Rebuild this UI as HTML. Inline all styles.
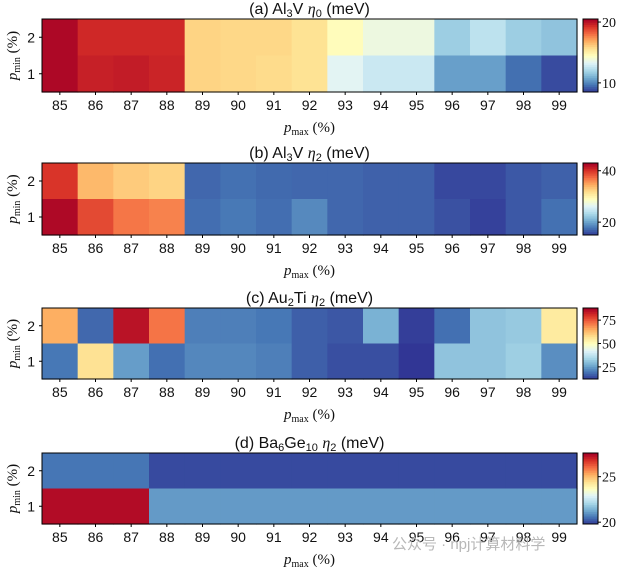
<!DOCTYPE html>
<html><head><meta charset="utf-8">
<style>
html,body{margin:0;padding:0;background:#fff;}
svg{display:block;}
text{fill:#111;}
.sans{font-family:"Liberation Sans","DejaVu Sans",sans-serif;}
.serif{font-family:"Liberation Serif","DejaVu Serif",serif;}
</style></head>
<body>
<svg id="fig" width="630" height="568" viewBox="0 0 630 568" xmlns="http://www.w3.org/2000/svg"></svg>
<script>
const categories = [85,86,87,88,89,90,91,92,93,94,95,96,97,98,99];
const rowsLabels = [2,1];
// panel a: Al3V eta0
const aRow2 = [20.3,19.5,19.5,19.5,16.0,15.9,15.9,15.6,14.6,13.8,13.8,11.8,12.5,11.8,11.5];
const aRow1 = [20.3,19.7,19.8,19.6,16.0,15.9,15.8,15.6,13.4,12.8,12.8,10.6,10.6,9.6,8.9];
const aRange = [8.5,20.5];
const aTicks = [10,20];
// panel b: Al3V eta2
const bRow2 = [40,34,33,32.5,17.2,17.6,17.3,17.2,17.2,16.9,16.9,15.8,15.8,16.5,16.9];
const bRow1 = [42.5,39,37,36.5,17.5,18,17.5,18.8,17.2,16.9,16.9,16.2,15.5,16.5,17.6];
const bRange = [15,43];
const bTicks = [20,40];
// panel c: Au2Ti eta2
const cRow2 = [65,18,85,72,21,21,20,17,16,28,13,19,31,32,55];
const cRow1 = [20,57,25,19,22,22,21,17,15,15,12,31,31,33,23];
const cRange = [12,88];
const cTicks = [25,50,75];
// panel d: Ba6Ge10 eta2
const dRow2 = [20.6,20.6,20.6,20.05,20.05,20.05,20.05,20.05,20.05,20.05,20.05,20.05,20.05,20.05,20.05];
const dRow1 = [27.4,27.4,27.4,21.1,21.1,21.1,21.1,21.1,21.1,21.1,21.1,21.1,21.1,21.1,21.1];
const dRange = [19.8,27.6];
const dTicks = [20,25];

const cmapStops = ["#313695","#4575b4","#74add1","#abd9e9","#e0f3f8","#ffffbf","#fee090","#fdae61","#f46d43","#d73027","#a50026"];
function hex(h){return [1,3,5].map(i=>parseInt(h.substr(i,2),16));}
function cmap(t){
  t=Math.max(0,Math.min(1,t));
  const p=t*(cmapStops.length-1), i=Math.min(Math.floor(p),cmapStops.length-2), f=p-i;
  const a=hex(cmapStops[i]), b=hex(cmapStops[i+1]);
  return "rgb("+a.map((v,k)=>Math.round(v+(b[k]-v)*f)).join(",")+")";
}
const NS="http://www.w3.org/2000/svg";
const svg=document.getElementById("fig");
function el(tag,attrs,parent){const e=document.createElementNS(NS,tag);for(const k in attrs)e.setAttribute(k,attrs[k]);(parent||svg).appendChild(e);return e;}

const X0=42, X1=577, CBX=583, CBW=15;
const panels=[
 {key:"a",top:19,bot:92,rows:[aRow2,aRow1],range:aRange,ticks:aTicks,title:["(a) Al","_3","V ","η","_0"," (meV)"]},
 {key:"b",top:163,bot:235,rows:[bRow2,bRow1],range:bRange,ticks:bTicks,title:["(b) Al","_3","V ","η","_2"," (meV)"]},
 {key:"c",top:308,bot:379,rows:[cRow2,cRow1],range:cRange,ticks:cTicks,title:["(c) Au","_2","Ti ","η","_2"," (meV)"]},
 {key:"d",top:453,bot:524,rows:[dRow2,dRow1],range:dRange,ticks:dTicks,title:["(d) Ba","_6","Ge","_10"," ","η","_2"," (meV)"]}
];
panels.forEach(P=>{
  const g=el("g",{});
  
  
  const cw=(X1-X0)/categories.length, rh=(P.bot-P.top)/2;
  const xScale=i=>X0+i*cw;
  const yScale=r=>P.top+r*rh;
  const cScale=v=>(v-P.range[0])/(P.range[1]-P.range[0]);
  P.rows.forEach((row,r)=>{
    row.forEach((v,i)=>{
      const c=el("rect",{x:xScale(i),y:yScale(r),width:cw+0.6,height:rh+0.6,fill:cmap(cScale(v))},g);
      
      
    });
  });
  el("rect",{x:X0,y:P.top,width:X1-X0,height:P.bot-P.top,fill:"none",stroke:"#000","stroke-width":1},g);
  categories.forEach((c,i)=>{
    const x=xScale(i)+cw/2;
    el("line",{x1:x,x2:x,y1:P.bot,y2:P.bot+3,stroke:"#000"},g);
    const t=el("text",{x:x,y:P.bot+18,"text-anchor":"middle","font-size":14,class:"sans"},g);
    t.textContent=c;
    
    
  });
  rowsLabels.forEach((l,r)=>{
    const y=yScale(r)+rh/2;
    el("line",{x1:X0-3,x2:X0,y1:y,y2:y,stroke:"#000"},g);
    const t=el("text",{x:X0-7,y:y+5,"text-anchor":"end","font-size":14,class:"sans"},g);
    t.textContent=l;
    
    
  });
  const xl=el("text",{x:(X0+X1)/2,y:P.bot+40,"text-anchor":"middle","font-size":15,class:"serif"},g);
  xl.innerHTML='<tspan font-style="italic">p</tspan><tspan font-size="10" baseline-shift="-3">max</tspan><tspan> (%)</tspan>';
  
  
  const cy=(P.top+P.bot)/2;
  const yl=el("text",{x:0,y:0,"text-anchor":"middle","font-size":15,class:"serif",transform:"translate(17,"+cy+") rotate(-90)"},g);
  yl.innerHTML='<tspan font-style="italic">p</tspan><tspan font-size="10" baseline-shift="-3">min</tspan><tspan> (%)</tspan>';
  
  
  const tt=el("text",{x:(X0+X1)/2,y:P.top-5,"text-anchor":"middle","font-size":16,class:"sans"},g);
  let html="";
  P.title.forEach(s=>{
    if(s[0]==="_") html+='<tspan font-size="11" baseline-shift="-3">'+s.slice(1)+'</tspan>';
    else if(s==="η") html+='<tspan font-style="italic" class="serif">'+s+'</tspan>';
    else html+='<tspan>'+s+'</tspan>';
  });
  tt.innerHTML=html;
  
  
  const cb=el("g",{},g);
  
  
  const N=40, h=(P.bot-P.top)/N;
  for(let k=0;k<N;k++){
    el("rect",{x:CBX,y:P.bot-(k+1)*h,width:CBW,height:h+0.5,fill:cmap((k+0.5)/N)},cb);
  }
  el("rect",{x:CBX,y:P.top,width:CBW,height:P.bot-P.top,fill:"none",stroke:"#000"},cb);
  P.ticks.forEach(tv=>{
    const y=P.bot-cScale(tv)*(P.bot-P.top);
    el("line",{x1:CBX+CBW,x2:CBX+CBW+3,y1:y,y2:y,stroke:"#000"},cb);
    const t=el("text",{x:CBX+CBW+4,y:y+5,"font-size":14,class:"serif"},cb);
    t.textContent=tv;
    
    
  });
});
const wm=el("text",{x:392,y:549,"font-size":15,style:"fill:#b8b8b8;font-family:'Liberation Sans','Noto Sans CJK SC',sans-serif"});
wm.textContent="公众号 · npj计算材料学";


</script>
</body></html>
